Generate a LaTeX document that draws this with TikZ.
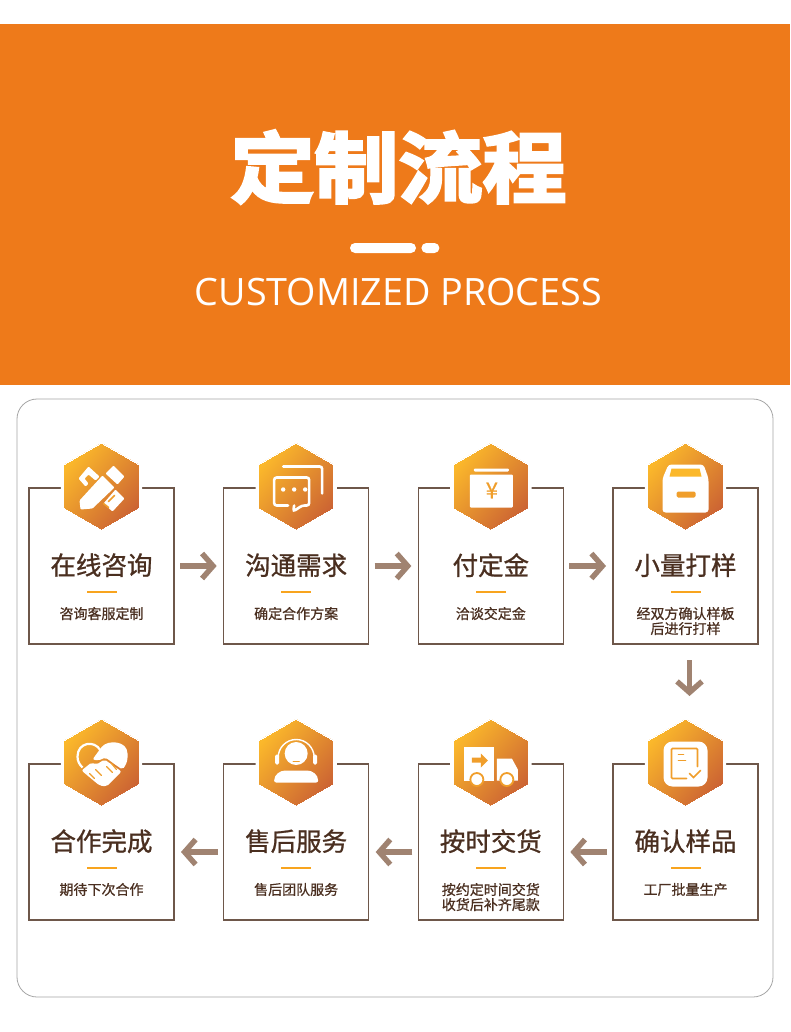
\documentclass[tikz,border=0pt]{standalone}
\usepackage{fontspec}
\usepackage{xcolor}
\usepackage{tikz}
\usetikzlibrary{shapes,arrows.meta,positioning,shadows}
\newfontfamily\cjkheavy[FakeBold=3.4]{Noto Sans CJK SC Bold}
\newfontfamily\cjkhead[FakeBold=0.9]{Noto Sans CJK SC}
\newfontfamily\cjksub[FakeBold=0.8]{Noto Sans CJK SC}
\newfontfamily\latinlight{Open Sans}
\definecolor{bandorange}{HTML}{EE7A1A}
\definecolor{hexyellow}{HTML}{FBB82B}
\definecolor{hexmid}{HTML}{F09E2B}
\definecolor{hexbrown}{HTML}{CC6433}
\definecolor{boxline}{HTML}{6E574A}
\definecolor{inktext}{HTML}{4A2F20}
\definecolor{flowbrown}{HTML}{A08371}
\definecolor{dashorange}{HTML}{F8A41E}

\begin{document}
\begin{tikzpicture}[
    x=1pt, y=-1pt,
    card/.style={draw=boxline, line width=1.3pt, fill=white, rectangle, minimum width=145pt, minimum height=156pt, outer sep=0pt},
    badge/.style={regular polygon, regular polygon sides=6, regular polygon rotate=30, minimum size=87pt, outer sep=0pt, draw=white, line width=0pt,
        preaction={draw=white, line width=6pt, drop shadow={opacity=.18, shadow xshift=0pt, shadow yshift=-1.5pt}},
        top color=hexyellow, middle color=hexmid, bottom color=hexbrown, shading angle=50},
    heading/.style={text=inktext, font=\cjkhead\fontsize{25.5}{25.5}\selectfont, inner sep=0pt, minimum height=26pt},
    tick/.style={rectangle, draw=none, fill=dashorange, inner sep=0pt, minimum width=30pt, minimum height=2pt},
    subtext/.style={text=inktext, font=\cjksub\fontsize{14}{15}\selectfont, inner sep=0pt, align=center},
    flow/.style={-{Straight Barb[length=11pt,width=25pt]}, draw=flowbrown, line width=5.4pt},
    pill/.style={fill=white, rectangle, rounded corners=5pt, inner sep=0pt, minimum height=10pt},
    glyph/.style={fill=white, rounded corners=1pt},
    glyphline/.style={draw=white, line width=2.6pt, rounded corners=2.5pt, line cap=round},
    notch/.style={draw=hexmid, line width=1.6pt, line cap=round},
    node distance=120pt and 49.67pt
]
\useasboundingbox (0,0) rectangle (790,1032);
\fill[white] (0,0) rectangle (790,1032);

% header
\fill[bandorange] (0,24) rectangle (790,385);
\node[text=white, font=\cjkheavy\fontsize{84}{84}\selectfont, inner sep=0pt] (title) at (398.5,167) {\scalebox{1}[0.92]{定制流程}};
\node[pill, minimum width=66pt] (dash1) at (383,248) {};
\node[pill, right=5pt of dash1, minimum width=18pt] (dash2) {};
\node[text=white, font=\latinlight\fontsize{37.7}{37.7}\selectfont, inner sep=0pt] (subtitle) at (398.5,292) {CUSTOMIZED PROCESS};

% panel
\node[draw=black!35, line width=.8pt, rectangle, rounded corners=20pt, minimum width=756pt, minimum height=598pt] (panel) at (395,698) {};

% top row
\node[card] (b1) at (101.5,566) {};
\node[card, right=of b1] (b2) {};
\node[card, right=of b2] (b3) {};
\node[card, right=of b3] (b4) {};

% bottom row
\node[card, below=120pt of b4] (b5) {};
\node[card, below=120pt of b3] (b6) {};
\node[card, below=120pt of b2] (b7) {};
\node[card, below=120pt of b1] (b8) {};

% badges
\node[badge] (h1) at ([yshift=1.5pt]b1.north) {};
\node[badge] (h2) at ([yshift=1.5pt]b2.north) {};
\node[badge] (h3) at ([yshift=1.5pt]b3.north) {};
\node[badge] (h4) at ([yshift=1.5pt]b4.north) {};
\node[badge] (h5) at ([yshift=1.5pt]b5.north) {};
\node[badge] (h6) at ([yshift=1.5pt]b6.north) {};
\node[badge] (h7) at ([yshift=1.5pt]b7.north) {};
\node[badge] (h8) at ([yshift=1.5pt]b8.north) {};

% card texts
\node[heading, below=22pt of h1] (t1) {在线咨询};
\node[tick, below=12pt of t1] (r1) {};
\node[subtext, below=14pt of r1] (s1) {咨询客服定制};

\node[heading, below=22pt of h2] (t2) {沟通需求};
\node[tick, below=12pt of t2] (r2) {};
\node[subtext, below=14pt of r2] (s2) {确定合作方案};

\node[heading, below=22pt of h3] (t3) {付定金};
\node[tick, below=12pt of t3] (r3) {};
\node[subtext, below=14pt of r3] (s3) {洽谈交定金};

\node[heading, below=22pt of h4] (t4) {小量打样};
\node[tick, below=12pt of t4] (r4) {};
\node[subtext, below=14pt of r4] (s4) {经双方确认样板\\后进行打样};

\node[heading, below=22pt of h5] (t5) {确认样品};
\node[tick, below=12pt of t5] (r5) {};
\node[subtext, below=14pt of r5] (s5) {工厂批量生产};

\node[heading, below=22pt of h6] (t6) {按时交货};
\node[tick, below=12pt of t6] (r6) {};
\node[subtext, below=14pt of r6] (s6) {按约定时间交货\\收货后补齐尾款};

\node[heading, below=22pt of h7] (t7) {售后服务};
\node[tick, below=12pt of t7] (r7) {};
\node[subtext, below=14pt of r7] (s7) {售后团队服务};

\node[heading, below=22pt of h8] (t8) {合作完成};
\node[tick, below=12pt of t8] (r8) {};
\node[subtext, below=14pt of r8] (s8) {期待下次合作};

% arrows
\draw[flow, shorten <=6pt, shorten >=7pt] (b1) -- (b2);
\draw[flow, shorten <=6pt, shorten >=7pt] (b2) -- (b3);
\draw[flow, shorten <=6pt, shorten >=7pt] (b3) -- (b4);
\draw[flow, shorten <=16pt, shorten >=68pt] ([xshift=4pt]b4.south) -- ([xshift=4pt]b5.north);
\draw[flow, shorten <=6pt, shorten >=7pt] ([yshift=-10pt]b5.west) -- ([yshift=-10pt]b6.east);
\draw[flow, shorten <=6pt, shorten >=7pt] ([yshift=-10pt]b6.west) -- ([yshift=-10pt]b7.east);
\draw[flow, shorten <=6pt, shorten >=7pt] ([yshift=-10pt]b7.west) -- ([yshift=-10pt]b8.east);

% icon: pencil and ruler
\begin{scope}[shift={(h1.center)}]
\fill[glyph] (-22,14) -- (1,-11) -- (13,1) -- (-9,22) -- (-21,23) -- cycle;
\fill[glyph] (4,-13) -- (12,-21) -- (23,-10) -- (16,-2) -- cycle;
\fill[glyph] (-23,-8) -- (-13,-20) -- (-2,-10) -- (-6,-6) -- (-13,-12) -- (-17,-8) -- (-13,-3) -- (-16,0) -- cycle;
\fill[glyph] (2,17) -- (14,3) -- (23,12) -- (11,25) -- cycle;
\draw[notch] (7,15) -- (13,9);
\draw[notch] (2,17) -- (7,21);
\end{scope}

% icon: chat bubbles
\begin{scope}[shift={(h2.center)}]
\draw[glyphline] (-13,-20) -- (26,-20) -- (26,7);
\draw[glyphline] (-8,19) -- (-22,19) -- (-22,-9) -- (13,-9) -- (13,19) -- (6,19) -- (-3,25) -- (-2,19);
\fill[white] (-13,3) circle (2.2) (-2,3) circle (2.2) (9,3) circle (2.2);
\end{scope}

% icon: yen box
\begin{scope}[shift={(h3.center)}]
\fill[glyph] (-17,-18) rectangle (18,-15);
\fill[glyph] (-21,-12) rectangle (22,21);
\node[text=hexmid, font=\cjkhead\fontsize{22}{22}\selectfont, inner sep=0pt] (yen) at (1,4) {¥};
\end{scope}

% icon: archive box
\begin{scope}[shift={(h4.center)}]
\fill[glyph, rounded corners=3pt] (-23,-8) -- (-17,-22) -- (18,-22) -- (23,-8) -- (23,26) -- (-23,26) -- cycle;
\fill[hexyellow] (-14,-18) -- (14,-18) -- (16,-10) -- (-16,-10) -- cycle;
\fill[hexmid, rounded corners=1.5pt] (-9,5) rectangle (10,11);
\end{scope}

% icon: checked sheet
\begin{scope}[shift={(h5.center)}]
\fill[glyph, rounded corners=9pt] (-22,-21) rectangle (22,24);
\draw[notch, rounded corners=1pt] (1,16) -- (-14,16) -- (-14,-14) -- (12,-14) -- (12,4);
\draw[notch] (-7,-8) -- (-2,-8);
\draw[notch] (-7,-2) -- (0,-2);
\draw[notch] (4,11) -- (8,15) -- (15,8);
\end{scope}

% icon: truck
\begin{scope}[shift={(h6.center)}]
\fill[white] (-27,-16) rectangle (3,18);
\fill[white] (6,-4) -- (21,-4) -- (27,7) -- (27,18) -- (6,18) -- cycle;
\fill[hexmid] (-19,-5) -- (-10,-5) -- (-10,-9) -- (-3,-2) -- (-10,5) -- (-10,0) -- (-19,0) -- cycle;
\fill[white, draw=hexmid, line width=1.8pt] (-14,17) circle (6.5);
\fill[white, draw=hexmid, line width=1.8pt] (16,17) circle (6.5);
\end{scope}

% icon: headset agent
\begin{scope}[shift={(h7.center)}]
\fill[white] (0,-9) circle (11.5);
\draw[white, line width=1.4pt] (-18,-5) arc[start angle=180, end angle=0, radius=18pt];
\fill[white, rounded corners=1.5pt] (-21,-8) rectangle (-17,2);
\fill[white, rounded corners=1.5pt] (17,-8) rectangle (21,2);
\draw[draw=hexmid, line width=1.3pt, line cap=round] (-3,-1) -- (3,-1);
\fill[white, rounded corners=2pt] (-22,20) .. controls (-22,12) and (-16,8) .. (-9,8) -- (9,8) .. controls (16,8) and (22,12) .. (22,20) -- cycle;
\end{scope}

% icon: handshake heart
\begin{scope}[shift={(h8.center)}]
\draw[white, line width=2.2pt] (-1,-12) .. controls (-7,-23) and (-24,-20) .. (-24,-6) .. controls (-24,-1) and (-22,2) .. (-19,5);
\fill[glyph, rounded corners=2pt] (-9,-3) -- (-1,-14) .. controls (6,-23) and (26,-22) .. (26,-7) .. controls (26,-1) and (24,3) .. (21,7) -- (15,3) -- (4,-5) -- (-3,-2) -- cycle;
\fill[glyph, rounded corners=2pt] (-20,8) -- (-10,0) -- (-5,2) -- (3,-3) -- (20,9) -- (5,24) -- (-2,23) -- cycle;
\draw[notch, line width=1.2pt] (-12,11) -- (-7,16);
\draw[notch, line width=1.2pt] (-6,7) -- (0,13);
\draw[notch, line width=1.2pt] (5,4) -- (11,10);
\draw[notch, line width=1.2pt] (10,1) -- (15,7);
\end{scope}

\end{tikzpicture}
\end{document}
